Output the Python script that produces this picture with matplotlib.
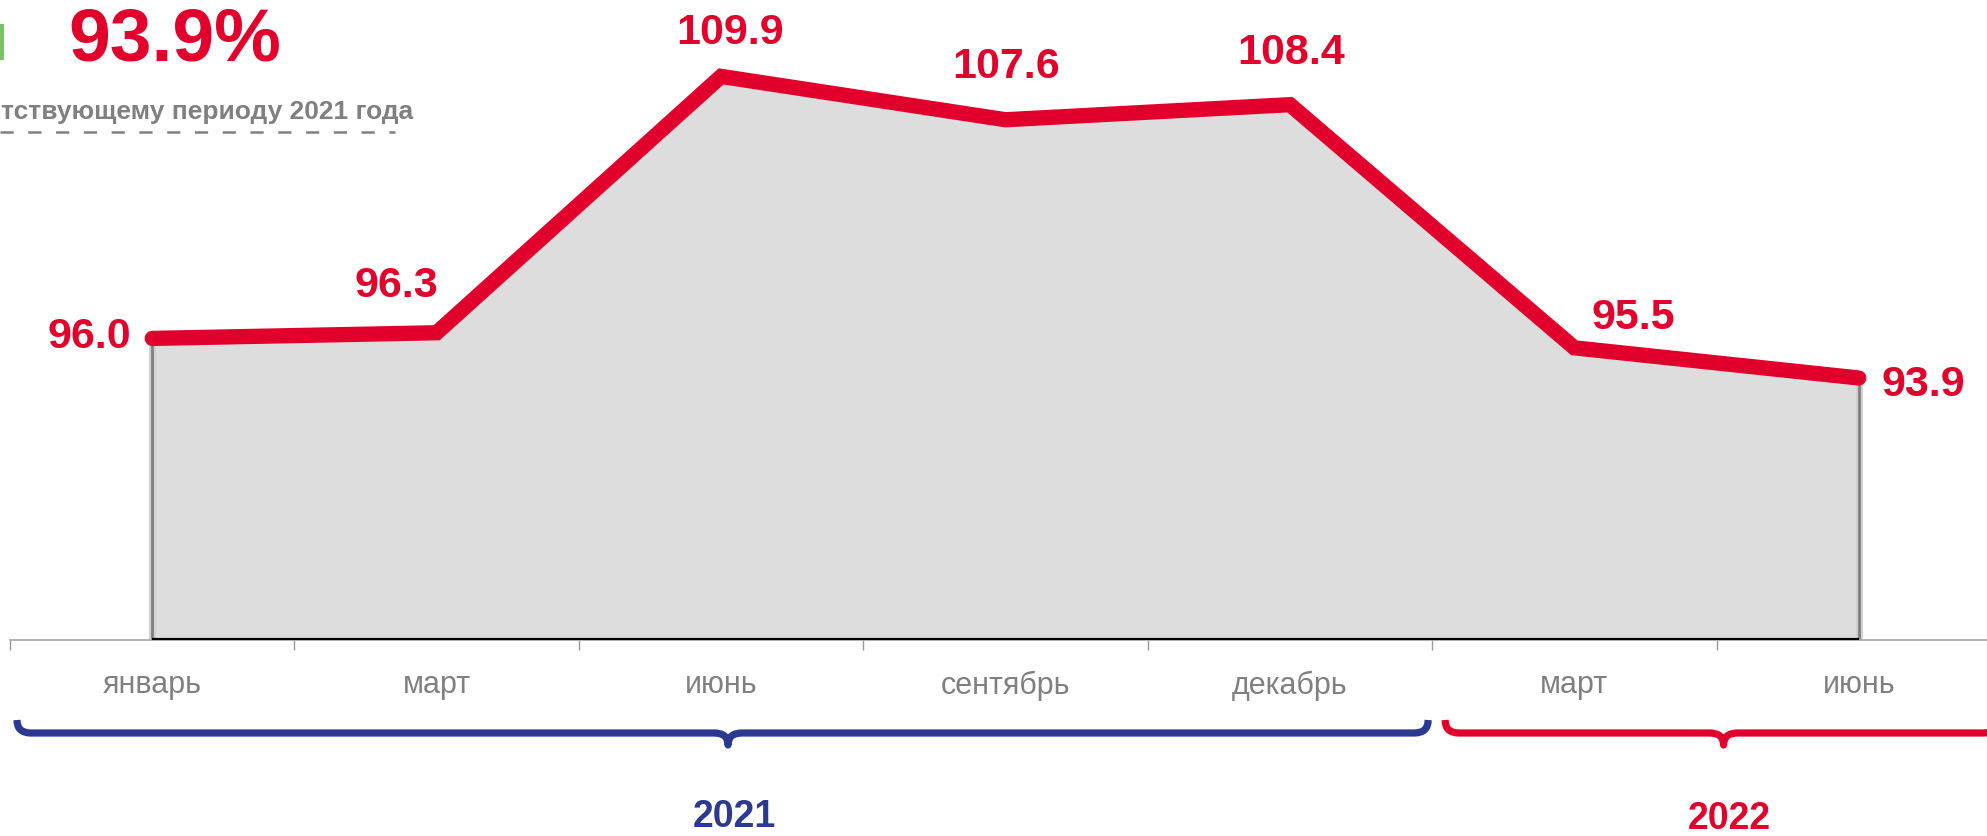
import matplotlib.pyplot as plt
from matplotlib.path import Path
from matplotlib.patches import PathPatch, Rectangle

# Data
months = ["январь", "март", "июнь", "сентябрь", "декабрь", "март", "июнь"]
values = [96.0, 96.3, 109.9, 107.6, 108.4, 95.5, 93.9]
years = ["2021", "2022"]
year_spans = [(0, 4), (5, 6)]
headline = "93.9%"
subtitle = "тствующему периоду 2021 года"

# label offsets in pixels (dx, dy from point to text baseline) and alignment
label_offsets = [(-21, -9), (-40, 37), (9, 33), (1, 43), (1, 42), (59, 20), (23, -17)]
label_ha = ["right", "center", "center", "center", "center", "center", "left"]

RED = "#E0002B"
NAVY = "#2B3990"
GRAY = "#808080"

W, H = 1987, 837
plt.rcParams["font.family"] = ["Liberation Sans", "DejaVu Sans"]
plt.rcParams["lines.scale_dashes"] = False

fig = plt.figure(figsize=(W / 100, H / 100), dpi=100)

# main axes: baseline 641 px from top, 18.85 px per unit
ax = fig.add_axes([10 / W, 196 / H, 1991 / W, 641 / H])
x = list(range(len(values)))
ymin = 80
ax.set_xlim(-0.5, len(values) - 0.5)
ax.set_ylim(ymin, ymin + 641 / 18.85)

# grey area under the line
ax.fill_between(x, ymin, values, color="#DDDDDD", lw=0, zorder=1)
ax.vlines([x[0], x[-1]], ymin, [values[0], values[-1]], color="#D0D0D0", lw=5, zorder=1.5)
ax.vlines([x[0], x[-1]], ymin, [values[0], values[-1]], color="#808080", lw=2, zorder=2)
ax.hlines(ymin, x[0], x[-1], color="black", lw=3, zorder=3)

# red line
ax.plot(x, values, color=RED, lw=11, solid_capstyle="round",
        solid_joinstyle="miter", zorder=4, clip_on=False)

for i, v in enumerate(values):
    ax.annotate(f"{v:.1f}", (x[i], v), xytext=label_offsets[i], textcoords="offset pixels",
                ha=label_ha[i], va="baseline", fontsize=31, fontweight="bold",
                color=RED, annotation_clip=False)

# axis styling
for s in ["top", "left", "right"]:
    ax.spines[s].set_visible(False)
ax.spines["bottom"].set_color("#A6A6A6")
ax.spines["bottom"].set_linewidth(1.2)
ax.set_yticks([])
ax.set_xticks(x)
ax.set_xticklabels(months, fontsize=22, color=GRAY)
ax.tick_params(axis="x", which="major", length=0, pad=21)
ax.set_xticks([i - 0.5 for i in range(len(values) + 1)], minor=True)
ax.tick_params(axis="x", which="minor", length=7.5, width=1, color="#999999", direction="out")
ax.patch.set_visible(False)

# overlay in pixel coordinates (y down)
ov = fig.add_axes([0, 0, 1, 1])
ov.set_xlim(0, W)
ov.set_ylim(H, 0)
ov.axis("off")


def to_px(xv):
    return ax.transData.transform((xv, ymin))[0]


def brace(xa, xb, xm, color):
    yt, yl, yb, r = 721, 734, 746, 14
    verts = [(xa, yt), (xa, yl), (xa + r, yl),
             (xm - r, yl), (xm, yl), (xm, yb),
             (xm, yl), (xm + r, yl),
             (xb - r, yl), (xb, yl), (xb, yt)]
    codes = [Path.MOVETO, Path.CURVE3, Path.CURVE3,
             Path.LINETO, Path.CURVE3, Path.CURVE3,
             Path.CURVE3, Path.CURVE3,
             Path.LINETO, Path.CURVE3, Path.CURVE3]
    ov.add_patch(PathPatch(Path(verts, codes), fill=False, edgecolor=color,
                           lw=5.2, capstyle="butt", joinstyle="round"))


year_colors = [NAVY, RED]
year_base = [827, 829]
gaps = [(7, -4), (13, -4)]
for (a, b), name, col, yb, g in zip(year_spans, years, year_colors, year_base, gaps):
    xa = to_px(a - 0.5) + g[0]
    xb = to_px(b + 0.5) + g[1]
    xm = (to_px(a - 0.5) + to_px(b + 0.5)) / 2 + 7
    brace(xa, xb, xm, col)
    ov.text(xm + 6, yb, name, ha="center", va="baseline", fontsize=27, fontweight="bold",
            color=col)

# headline block (partly cut off on the left)
ov.add_patch(Rectangle((0, 25), 4, 36, color="#7CC26B", lw=0))
ov.text(175, 60, headline, ha="center", va="baseline", fontsize=54,
        fontweight="bold", color=RED)
ov.text(1, 119, subtitle, ha="left", va="baseline", fontsize=19,
        fontweight="bold", color=GRAY)
ov.plot([0, 395], [133, 133], color=GRAY, lw=1.8, dashes=(9.5, 10.5))

fig.savefig("out.png", dpi=100)
